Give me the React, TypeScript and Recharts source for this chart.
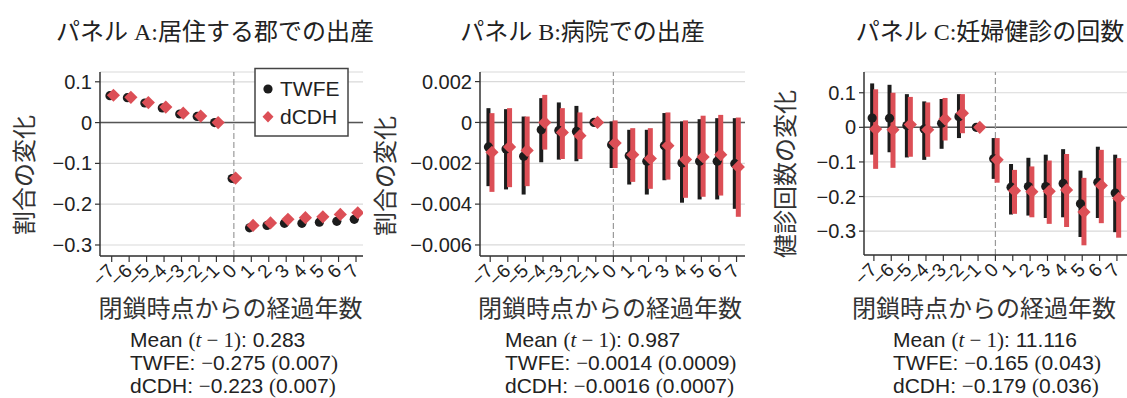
import React from 'react';
import {
  ComposedChart,
  Scatter,
  ErrorBar,
  XAxis,
  YAxis,
  CartesianGrid,
  ReferenceLine,
} from 'recharts';

// Event time relative to the closure year
const periods = [-7, -6, -5, -4, -3, -2, -1, 0, 1, 2, 3, 4, 5, 6, 7];

// Panel A: births in the county of residence
const aTwfe = [0.066, 0.061, 0.048, 0.036, 0.021, 0.015, 0, -0.137, -0.258, -0.252, -0.247, -0.247, -0.244, -0.242, -0.237];
const aDcdh = [0.067, 0.062, 0.049, 0.038, 0.023, 0.016, 0, -0.136, -0.252, -0.246, -0.237, -0.233, -0.231, -0.225, -0.221];

// Panel B: births in a hospital
const bTwfe = [-0.0012, -0.0013, -0.00166, -0.00036, -0.00039, -0.00044, 0, -0.00109, -0.00163, -0.0019, -0.00114, -0.00198, -0.0019, -0.0019, -0.00202];
const bTwfeLo = [-0.00312, -0.00328, -0.00353, -0.00195, -0.00182, -0.0019, 0, -0.00223, -0.00304, -0.00353, -0.00283, -0.00393, -0.00377, -0.00377, -0.00423];
const bTwfeHi = [0.0007, 0.00065, 0.00029, 0.00119, 0.00098, 0.00081, 0, 0.00005, -0.00036, -0.00036, 0.00046, 0.00005, 0.00016, 0.00021, 0.00021];
const bDcdh = [-0.00146, -0.0012, -0.00137, 0.0, -0.00049, -0.00065, 0, -0.00101, -0.00158, -0.00177, -0.00114, -0.00182, -0.00169, -0.00158, -0.00218];
const bDcdhLo = [-0.0034, -0.00317, -0.00312, -0.00133, -0.00179, -0.00179, 0, -0.00223, -0.00291, -0.00325, -0.0028, -0.00369, -0.00364, -0.00358, -0.00462];
const bDcdhHi = [0.000455, 0.0007, 0.00029, 0.00135, 0.0007, 0.00049, 0, 0.0001, -0.00028, -0.00028, 0.00049, 0.0001, 0.00033, 0.00037, 0.00024];

// Panel C: number of prenatal checkups
const cTwfe = [0.027, 0.026, 0.005, -0.005, 0.012, 0.031, 0, -0.091, -0.173, -0.171, -0.171, -0.162, -0.221, -0.159, -0.19];
const cTwfeLo = [-0.079, -0.072, -0.087, -0.094, -0.062, -0.031, 0, -0.149, -0.252, -0.255, -0.262, -0.26, -0.317, -0.262, -0.303];
const cTwfeHi = [0.127, 0.123, 0.096, 0.075, 0.082, 0.096, 0, -0.031, -0.106, -0.088, -0.079, -0.063, -0.125, -0.056, -0.079];
const cDcdh = [-0.005, -0.007, 0.008, -0.007, 0.024, 0.041, 0, -0.094, -0.183, -0.186, -0.185, -0.181, -0.245, -0.168, -0.205];
const cDcdhLo = [-0.12, -0.117, -0.085, -0.085, -0.038, -0.017, 0, -0.16, -0.25, -0.26, -0.279, -0.288, -0.341, -0.277, -0.319];
const cDcdhHi = [0.11, 0.1, 0.088, 0.072, 0.085, 0.096, 0, -0.031, -0.123, -0.113, -0.096, -0.077, -0.146, -0.065, -0.089];

// Tick values
const aTicks = [-0.3, -0.2, -0.1, 0, 0.1];
const bTicks = [-0.006, -0.004, -0.002, 0, 0.002];
const cTicks = [-0.3, -0.2, -0.1, 0, 0.1];

// Titles and summary statistics
const panelTitles = ['パネル A:居住する郡での出産', 'パネル B:病院での出産', 'パネル C:妊婦健診の回数'];
const yTitles = ['割合の変化', '割合の変化', '健診回数の変化'];
const xTitle = '閉鎖時点からの経過年数';
const statMean = ['0.283', '0.987', '11.116'];
const statTwfe = ['0.275', '0.0014', '0.165'];
const statTwfeSe = ['0.007', '0.0009', '0.043'];
const statDcdh = ['0.223', '0.0016', '0.179'];
const statDcdhSe = ['0.007', '0.0007', '0.036'];

const BLACK = '#1c1c1c';
const RED = '#dc4f56';
const SANS = "'Liberation Sans', Arial, Helvetica, sans-serif";
const SERIF = "'Liberation Serif', 'DejaVu Serif', serif";
const TITLE_FONT = "'Liberation Serif', 'Noto Sans CJK JP', serif";
const CJK = "'Noto Sans CJK JP', sans-serif";

const fmt = (v: number) => (v === 0 ? '0' : String(v).replace('-', '\u2212'));

type Row = { x: number; y: number; err?: [number, number] };

function buildRows(vals: number[], lo: number[] | null, hi: number[] | null, shift: number): Row[] {
  return periods.map((t, i) => {
    const row: Row = { x: t + shift, y: vals[i] };
    if (lo && hi) row.err = [vals[i] - lo[i], hi[i] - vals[i]];
    return row;
  });
}

const Dot = (p: any) => <circle cx={p.cx} cy={p.cy} r={4.6} fill={BLACK} />;
const Diamond = (p: any) => {
  const r = 6.6;
  return (
    <polygon
      points={`${p.cx},${p.cy - r} ${p.cx + r},${p.cy} ${p.cx},${p.cy + r} ${p.cx - r},${p.cy}`}
      fill={RED}
    />
  );
};

const XTick = (p: any) => {
  const x = p.x + 4;
  const y = p.y + 8;
  return (
    <text
      x={x}
      y={y}
      transform={`rotate(-45 ${x} ${y})`}
      textAnchor="end"
      fontSize={19}
      fontFamily={SANS}
      fill="#222"
    >
      {fmt(p.payload.value)}
    </text>
  );
};

type PanelCfg = {
  left: number;
  width: number;
  margin: { top: number; right: number; bottom: number; left: number };
  xDomain: [number, number];
  yDomain: [number, number];
  yTicks: number[];
  twfe: number[];
  twfeLo: number[] | null;
  twfeHi: number[] | null;
  dcdh: number[];
  dcdhLo: number[] | null;
  dcdhHi: number[] | null;
};

const panels: PanelCfg[] = [
  {
    left: 0,
    width: 368,
    margin: { top: 72, right: 5, bottom: 112, left: 40 },
    xDomain: [-7.67, 7.4],
    yDomain: [-0.327, 0.124],
    yTicks: aTicks,
    twfe: aTwfe,
    twfeLo: null,
    twfeHi: null,
    dcdh: aDcdh,
    dcdhLo: null,
    dcdhHi: null,
  },
  {
    left: 368,
    width: 387,
    margin: { top: 72, right: 10, bottom: 112, left: 52 },
    xDomain: [-7.58, 7.48],
    yDomain: [-0.00654, 0.00247],
    yTicks: bTicks,
    twfe: bTwfe,
    twfeLo: bTwfeLo,
    twfeHi: bTwfeHi,
    dcdh: bDcdh,
    dcdhLo: bDcdhLo,
    dcdhHi: bDcdhHi,
  },
  {
    left: 755,
    width: 372,
    margin: { top: 72, right: 0, bottom: 113, left: 49 },
    xDomain: [-7.57, 7.58],
    yDomain: [-0.369, 0.16],
    yTicks: cTicks,
    twfe: cTwfe,
    twfeLo: cTwfeLo,
    twfeHi: cTwfeHi,
    dcdh: cDcdh,
    dcdhLo: cDcdhLo,
    dcdhHi: cDcdhHi,
  },
];

function Panel({ cfg }: { cfg: PanelCfg }) {
  const tw = buildRows(cfg.twfe, cfg.twfeLo, cfg.twfeHi, -0.1);
  const dc = buildRows(cfg.dcdh, cfg.dcdhLo, cfg.dcdhHi, 0.1);
  return (
    <div style={{ position: 'absolute', left: cfg.left, top: 0 }}>
      <ComposedChart width={cfg.width} height={398} margin={cfg.margin}>
        <CartesianGrid vertical={false} stroke="#d9d9d9" strokeWidth={1.2} />
        <XAxis
          type="number"
          dataKey="x"
          domain={cfg.xDomain}
          ticks={periods}
          interval={0}
          allowDataOverflow
          height={30}
          tickSize={6}
          tick={<XTick />}
          axisLine={{ stroke: '#333', strokeWidth: 1.5 }}
          tickLine={{ stroke: '#333', strokeWidth: 1.2 }}
        />
        <YAxis
          type="number"
          dataKey="y"
          domain={cfg.yDomain}
          ticks={cfg.yTicks}
          interval={0}
          allowDataOverflow
          width={60}
          tickSize={5}
          tickMargin={3}
          tickFormatter={fmt}
          tick={{ fontSize: 20, fontFamily: SANS, fill: '#222' }}
          axisLine={{ stroke: '#333', strokeWidth: 1.5 }}
          tickLine={{ stroke: '#333', strokeWidth: 1.2 }}
        />
        <ReferenceLine y={0} stroke="#555" strokeWidth={1.5} />
        <ReferenceLine x={0} stroke="#9a9a9a" strokeWidth={1.2} strokeDasharray="6 3" />
        <Scatter data={tw} shape={Dot} fill={BLACK} isAnimationActive={false}>
          {cfg.twfeLo && (
            <ErrorBar dataKey="err" direction="y" width={0} stroke={BLACK} strokeWidth={4} isAnimationActive={false} />
          )}
        </Scatter>
        <Scatter data={dc} shape={Diamond} fill={RED} isAnimationActive={false}>
          {cfg.dcdhLo && (
            <ErrorBar dataKey="err" direction="y" width={0} stroke={RED} strokeWidth={5} isAnimationActive={false} />
          )}
        </Scatter>
      </ComposedChart>
    </div>
  );
}

const yTitlePos = [
  [22, 175],
  [383, 176],
  [783, 174],
];
const xTitleX = [230.5, 610, 984];
const titleX = [215, 582.5, 990];
const statX = [130, 505, 893];

export default function App() {
  return (
    <div style={{ position: 'absolute', left: 0, top: 0, width: 1127, height: 398, background: '#fff', overflow: 'hidden' }}>
      {panels.map((cfg, i) => (
        <Panel key={i} cfg={cfg} />
      ))}
      <svg width={1127} height={398} style={{ position: 'absolute', left: 0, top: 0, pointerEvents: 'none' }}>
        {/* legend of panel A */}
        <rect x={255} y={68.5} width={93} height={67.5} fill="#fff" stroke="#444" strokeWidth={1.5} />
        <circle cx={268} cy={89} r={4.6} fill={BLACK} />
        <text x={280} y={96} fontSize={21} fontFamily={SANS} fill="#222">TWFE</text>
        <polygon points="268,111 273.5,116.8 268,122.6 262.5,116.8" fill={RED} />
        <text x={280} y={124} fontSize={21} fontFamily={SANS} fill="#222">dCDH</text>

        {panelTitles.map((t, i) => (
          <text key={'t' + i} x={titleX[i]} y={40} textAnchor="middle" fontSize={24} fontFamily={TITLE_FONT} fill="#222">
            {t}
          </text>
        ))}
        {yTitles.map((t, i) => (
          <text
            key={'y' + i}
            transform={`translate(${yTitlePos[i][0]},${yTitlePos[i][1]}) rotate(-90)`}
            textAnchor="middle"
            dominantBaseline="central"
            fontSize={24}
            fontFamily={CJK}
            fill="#333"
          >
            {t}
          </text>
        ))}
        {xTitleX.map((x, i) => (
          <text key={'x' + i} x={x} y={317} textAnchor="middle" fontSize={24} fontFamily={CJK} fill="#333">
            {xTitle}
          </text>
        ))}
        {statX.map((x, i) => (
          <g key={'s' + i} fontSize={21} fill="#222">
            <text x={x} y={347.3}>
              <tspan fontFamily={SANS}>Mean </tspan>
              <tspan fontFamily={SERIF}>(</tspan>
              <tspan fontFamily={SERIF} fontStyle="italic">t</tspan>
              <tspan fontFamily={SERIF}> {'\u2212'} 1)</tspan>
              <tspan fontFamily={SANS}>: {statMean[i]}</tspan>
            </text>
            <text x={x} y={370.3}>
              <tspan fontFamily={SANS}>TWFE: </tspan>
              <tspan fontFamily={SERIF}>{'\u2212'}</tspan>
              <tspan fontFamily={SANS}>{statTwfe[i]} </tspan>
              <tspan fontFamily={SERIF}>(</tspan>
              <tspan fontFamily={SANS}>{statTwfeSe[i]}</tspan>
              <tspan fontFamily={SERIF}>)</tspan>
            </text>
            <text x={x} y={393.2}>
              <tspan fontFamily={SANS}>dCDH: </tspan>
              <tspan fontFamily={SERIF}>{'\u2212'}</tspan>
              <tspan fontFamily={SANS}>{statDcdh[i]} </tspan>
              <tspan fontFamily={SERIF}>(</tspan>
              <tspan fontFamily={SANS}>{statDcdhSe[i]}</tspan>
              <tspan fontFamily={SERIF}>)</tspan>
            </text>
          </g>
        ))}
      </svg>
    </div>
  );
}
